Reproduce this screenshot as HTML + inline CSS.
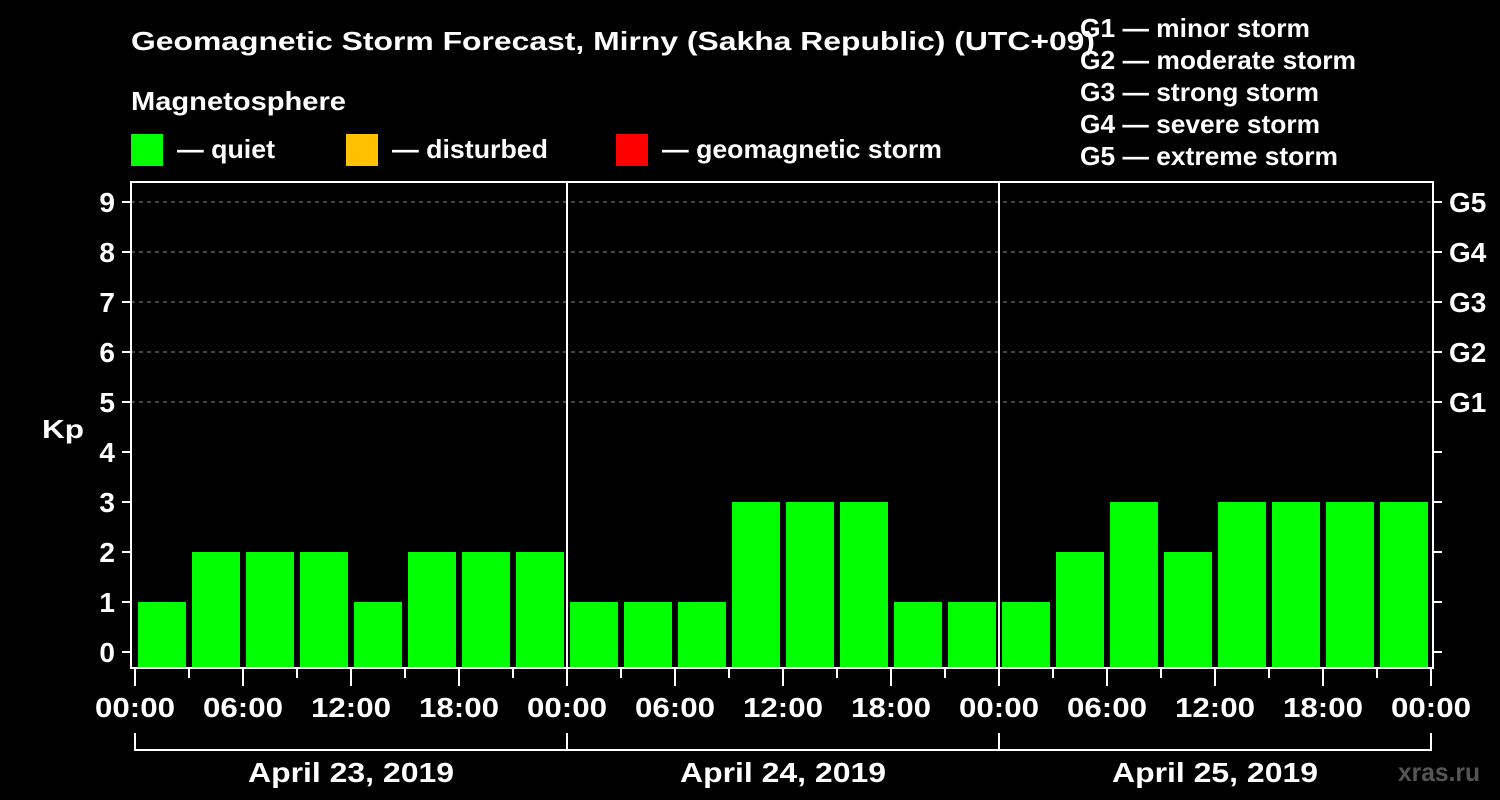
<!DOCTYPE html>
<html><head><meta charset="utf-8"><style>
html,body{margin:0;padding:0;background:#000;}
svg{display:block;}
svg text{font-family:"Liberation Sans",Arial,sans-serif;font-weight:bold;}
</style></head><body>
<svg id="chart" width="1500" height="800" viewBox="0 0 1500 800" font-family="Liberation Sans, Arial, sans-serif" font-weight="bold">
<rect x="0" y="0" width="1500" height="800" fill="#000"/>
<text x="131" y="50" fill="#fff" font-size="26" textLength="964" lengthAdjust="spacingAndGlyphs">Geomagnetic Storm Forecast, Mirny (Sakha Republic) (UTC+09)</text>
<text x="131" y="110" fill="#fff" font-size="26" textLength="215" lengthAdjust="spacingAndGlyphs">Magnetosphere</text>
<g>
<rect x="131" y="134" width="32" height="32" fill="#00ff00"/>
<text x="177" y="158" fill="#fff" font-size="26" textLength="98" lengthAdjust="spacingAndGlyphs">— quiet</text>
<rect x="346" y="134" width="32" height="32" fill="#ffc000"/>
<text x="392" y="158" fill="#fff" font-size="26" textLength="156" lengthAdjust="spacingAndGlyphs">— disturbed</text>
<rect x="616" y="134" width="32" height="32" fill="#ff0000"/>
<text x="662" y="158" fill="#fff" font-size="26" textLength="280" lengthAdjust="spacingAndGlyphs">— geomagnetic storm</text>
</g>
<g fill="#fff" font-size="26">
<text x="1080" y="37" textLength="230" lengthAdjust="spacingAndGlyphs">G1 — minor storm</text>
<text x="1080" y="69" textLength="276" lengthAdjust="spacingAndGlyphs">G2 — moderate storm</text>
<text x="1080" y="101" textLength="239" lengthAdjust="spacingAndGlyphs">G3 — strong storm</text>
<text x="1080" y="133" textLength="240" lengthAdjust="spacingAndGlyphs">G4 — severe storm</text>
<text x="1080" y="165" textLength="258" lengthAdjust="spacingAndGlyphs">G5 — extreme storm</text>
</g>
<text x="42" y="438" fill="#fff" font-size="26" textLength="42" lengthAdjust="spacingAndGlyphs">Kp</text>
<text x="1398" y="781" fill="#555" font-size="26" textLength="82" lengthAdjust="spacingAndGlyphs">xras.ru</text>
<g id="plot"></g>
</svg>
<script>
const kpValues = [1,2,2,2,1,2,2,2, 1,1,1,3,3,3,1,1, 1,2,3,2,3,3,3,3];
const dayLabels = ["April 23, 2019","April 24, 2019","April 25, 2019"];
const yTicks = [0,1,2,3,4,5,6,7,8,9];
const gLabels = ["G1","G2","G3","G4","G5"];
const hourLabels = ["00:00","06:00","12:00","18:00"];

(function(){
const NS = "http://www.w3.org/2000/svg";
const plot = document.getElementById("plot");
const X0 = 135, PER_SLOT = 54, Y0 = 652, PER_KP = 50;
const pL = 131, pR = 1433, pT = 182, pB = 668;
const xs = i => X0 + i * PER_SLOT;
const ys = v => Y0 - v * PER_KP;
function mk(tag, attrs) { const e = document.createElementNS(NS, tag); for (const k in attrs) e.setAttribute(k, attrs[k]); plot.appendChild(e); return e; }

yTicks.forEach(v => {
  if (v >= 5) {
    const g = mk("line", {x1:pL, x2:pR, y1:ys(v), y2:ys(v), stroke:"#888", "stroke-width":1, "stroke-dasharray":"4,4"});
    
    
  }
});
kpValues.forEach((v, i) => {
  const color = v >= 5 ? "#ff0000" : (v >= 4 ? "#ffc000" : "#00ff00");
  const b = mk("rect", {x:xs(i) + 3, y:ys(v), width:PER_SLOT - 6, height:pB - ys(v), fill:color});
  
  
});
for (let d = 1; d < dayLabels.length; d++) {
  const s = mk("line", {x1:xs(d*8), x2:xs(d*8), y1:pT, y2:pB, stroke:"#fff", "stroke-width":2});
  
  
}
const fr = mk("rect", {x:pL, y:pT, width:pR-pL, height:pB-pT, fill:"none", stroke:"#fff", "stroke-width":2});


yTicks.forEach(v => {
  const t = mk("line", {x1:122, x2:pL, y1:ys(v), y2:ys(v), stroke:"#fff", "stroke-width":2});
  
  
  const t2 = mk("line", {x1:pR, x2:1442, y1:ys(v), y2:ys(v), stroke:"#fff", "stroke-width":2});
  
  
  const l = mk("text", {x:115, y:ys(v) + 10, fill:"#fff", "font-size":28, "text-anchor":"end"});
  l.textContent = v;
  
  
});
gLabels.forEach((g, i) => {
  const l = mk("text", {x:1449, y:ys(5 + i) + 10, fill:"#fff", "font-size":28});
  l.textContent = g;
  
  
});
for (let i = 0; i <= kpValues.length; i++) {
  const major = i % 2 === 0;
  const t = mk("line", {x1:xs(i), x2:xs(i), y1:pB, y2:major ? 686 : 678, stroke:"#fff", "stroke-width":2});
  
  
  if (major) {
    const l = mk("text", {x:xs(i) - 40, y:717, fill:"#fff", "font-size":28, textLength:80, lengthAdjust:"spacingAndGlyphs"});
    l.textContent = hourLabels[(i / 2) % 4];
    
    
  }
}
dayLabels.forEach((d, k) => {
  const a = xs(k*8), b = xs((k+1)*8);
  const p = mk("path", {d:`M${a},733 V750 H${b} V733`, fill:"none", stroke:"#fff", "stroke-width":2});
  
  
  const l = mk("text", {x:(a+b)/2 - 103, y:782, fill:"#fff", "font-size":28, textLength:206, lengthAdjust:"spacingAndGlyphs"});
  l.textContent = d;
  
  
});
})();
</script>
</body></html>
